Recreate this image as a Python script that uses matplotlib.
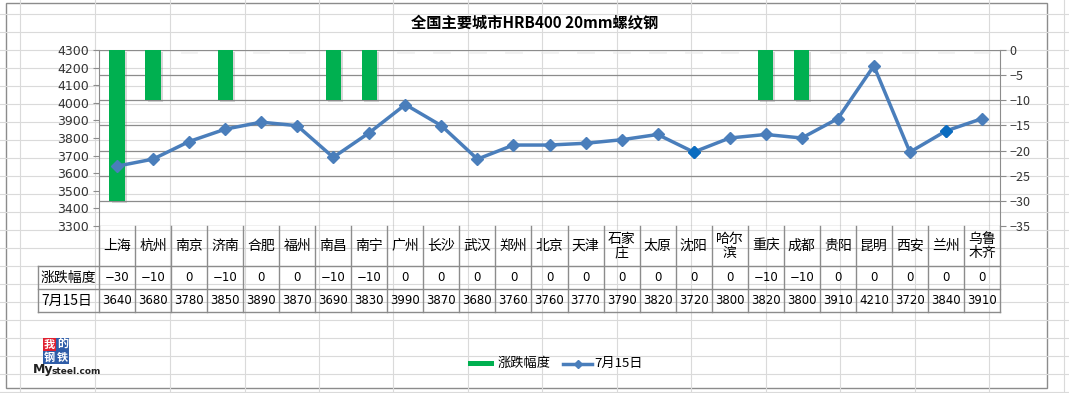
import matplotlib
matplotlib.use("Agg")
import matplotlib.pyplot as plt
import matplotlib.transforms as mtransforms
from matplotlib.patches import Rectangle
from matplotlib.lines import Line2D
import matplotlib.patheffects as pe

plt.rcParams['font.family'] = ['Noto Sans CJK SC', 'DejaVu Sans']

cities = ["上海", "杭州", "南京", "济南", "合肥", "福州", "南昌", "南宁", "广州", "长沙", "武汉",
          "郑州", "北京", "天津", "石家\n庄", "太原", "沈阳", "哈尔\n滨", "重庆", "成都", "贵阳",
          "昆明", "西安", "兰州", "乌鲁\n木齐"]
change = [-30, -10, 0, -10, 0, 0, -10, -10, 0, 0, 0, 0, 0, 0, 0, 0, 0, 0, -10, -10, 0, 0, 0, 0, 0]
price = [3640, 3680, 3780, 3850, 3890, 3870, 3690, 3830, 3990, 3870, 3680, 3760, 3760, 3770,
         3790, 3820, 3720, 3800, 3820, 3800, 3910, 4210, 3720, 3840, 3910]
change_label = "涨跌幅度"
price_label = "7月15日"
title = "全国主要城市HRB400 20mm螺纹钢"
left_ticks = list(range(3300, 4301, 100))
right_ticks = list(range(-35, 1, 5))

W, H = 1069, 393
fig = plt.figure(figsize=(W / 100, H / 100), dpi=100)
fig.patch.set_facecolor("white")

# spreadsheet background grid
bg = fig.add_axes([0, 0, 1, 1], zorder=-10)
bg.set_xlim(0, W); bg.set_ylim(H, 0); bg.axis("off")
for x in [20, 95, 170, 245, 319, 393, 468, 542, 617, 691, 766, 840, 915, 989, 1064]:
    bg.plot([x, x], [0, H], color="#DADADA", lw=0.8)
for y in range(14, H, 18):
    bg.plot([0, W], [y, y], color="#DADADA", lw=0.8)
bg.add_patch(Rectangle((6, 3), 1041, 385, facecolor="white", edgecolor="#8C8C8C", lw=1.0))

n = len(cities)
x = list(range(n))
L, R, T, B = 99, 1000, 50, 226
ax = fig.add_axes([L / W, 1 - B / H, (R - L) / W, (B - T) / H])
ax2 = ax.twinx()
ax.set_zorder(2); ax2.set_zorder(1)
ax.patch.set_visible(False)

# bars on right axis
bars = ax2.bar(x, change, width=0.42, color="#00B050", zorder=3)
for b in bars:
    b.set_path_effects([pe.SimplePatchShadow(offset=(1.5, -1.5), shadow_rgbFace="#808080", alpha=0.3), pe.Normal()])
for i, v in enumerate(change):
    if v == 0:
        ax2.plot([i - 0.2, i + 0.2], [-0.3, -0.3], color="#EAEAEA", lw=2, alpha=0.6, zorder=2)
ax2.set_ylim(-35, 0)
ax2.set_yticks(right_ticks)
ax2.set_yticklabels([str(t).replace("-", "−") for t in right_ticks], fontsize=9, color="#333333")
for t in right_ticks:
    ax2.axhline(t, color="#8C8C8C", lw=0.9, zorder=0)

# line on left axis
ax.plot(x, price, color="#4A7EBB", lw=2.5, marker="D", markersize=6.5, zorder=5)
for i in (16, 23):
    ax.plot(x[i], price[i], marker="D", markersize=6.5, color="#0A6CC0", zorder=6)
ax.set_ylim(3300, 4300)
ax.set_yticks(left_ticks)
ax.set_yticklabels([str(t) for t in left_ticks], fontsize=9, color="#333333", family="DejaVu Sans")
ax.set_xlim(-0.5, n - 0.5)
ax2.set_xlim(-0.5, n - 0.5)
ax.set_xticks([])

for a in (ax, ax2):
    for s in a.spines.values():
        s.set_visible(False)
    a.tick_params(axis="y", length=4, width=0.8, color="#8C8C8C", pad=3)
ax.spines["left"].set_visible(True); ax.spines["left"].set_color("#8C8C8C")
ax2.spines["right"].set_visible(True); ax2.spines["right"].set_color("#8C8C8C")

# data table below
tr = mtransforms.blended_transform_factory(ax.transData, fig.transFigure)
def fy(py):
    return 1 - py / H
row_y = [226, 266, 289, 312]
lc = "#8C8C8C"
for i in range(n + 1):
    xx = i - 0.5
    ax.add_line(Line2D([xx, xx], [fy(226), fy(312)], transform=tr, color=lc, lw=1, clip_on=False))
trf = fig.transFigure
for py in row_y[1:]:
    fig.add_artist(Line2D([38 / W, R / W], [fy(py), fy(py)], transform=trf, color=lc, lw=1))
fig.add_artist(Line2D([38 / W, 38 / W], [fy(266), fy(312)], transform=trf, color=lc, lw=1))
fig.text(41 / W, fy(277.5), change_label, fontsize=10, va="center", ha="left")
fig.text(41 / W, fy(300.5), price_label, fontsize=10, va="center", ha="left")
for i in range(n):
    ax.text(i, fy(246), cities[i], transform=tr, fontsize=10, ha="center", va="center", linespacing=1.0)
    ax.text(i, fy(277.5), str(change[i]).replace("-", "−"), transform=tr, fontsize=8.5, ha="center", va="center", family="DejaVu Sans")
    ax.text(i, fy(300.5), str(price[i]), transform=tr, fontsize=8.5, ha="center", va="center", family="DejaVu Sans")

# title
fig.text(535 / W, fy(22), title, fontsize=11, fontweight="bold", ha="center", va="center")

# legend
fig.add_artist(Rectangle((468 / W, fy(366)), 26 / W, 5 / H, transform=trf, facecolor="#00B050"))
fig.text(498 / W, fy(363.5), change_label, fontsize=9.5, va="center", ha="left")
fig.add_artist(Line2D([563 / W, 592 / W], [fy(363.5), fy(363.5)], transform=trf, color="#4A7EBB", lw=2.5))
fig.add_artist(Line2D([577.5 / W], [fy(363.5)], transform=trf, color="#4A7EBB", marker="D", markersize=4, lw=0))
fig.text(594 / W, fy(363.5), price_label, fontsize=9.5, va="center", ha="left")

# logo
def box(px, py, ch, col):
    fig.add_artist(Rectangle((px / W, fy(py + 13)), 13 / W, 13 / H, transform=trf, facecolor=col, edgecolor="none"))
    fig.text((px + 6.5) / W, fy(py + 6.5), ch, color="white", fontsize=8, fontweight="bold", ha="center", va="center")
box(43, 338, "我", "#E02030")
box(56, 338, "的", "#2F5DA8")
box(43, 351, "钢", "#2F5DA8")
box(56, 351, "铁", "#2F5DA8")
fig.text(33 / W, fy(370), "My", fontsize=9, fontweight="bold", ha="left", va="center", family="DejaVu Sans", color="#222222")
fig.text(51 / W, fy(371), "steel.com", fontsize=6.5, fontweight="bold", ha="left", va="center", family="DejaVu Sans", color="#222222")

fig.savefig("out.png", dpi=100)
